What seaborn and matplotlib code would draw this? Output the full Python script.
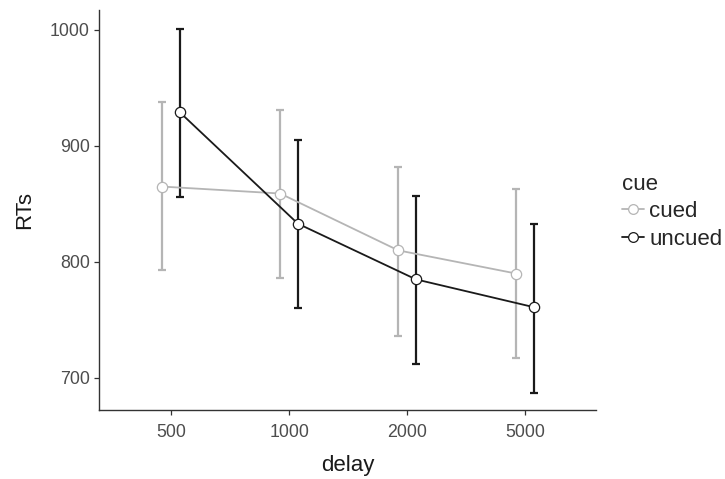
import matplotlib
matplotlib.use("Agg")
import matplotlib.pyplot as plt
import seaborn as sns
import pandas as pd
import numpy as np
from matplotlib.lines import Line2D

delays = ["500", "1000", "2000", "5000"]
cues = ["cued", "uncued"]
cued_mean = [865, 859, 810, 790]
cued_low = [793, 786, 736, 717]
cued_high = [938, 931, 882, 863]
uncued_mean = [929, 833, 785, 761]
uncued_low = [856, 760, 712, 687]
uncued_high = [1001, 905, 857, 833]

colors = {"cued": "#b5b5b5", "uncued": "#1a1a1a"}
offsets = {"cued": -0.075, "uncued": 0.075}

rows = []
for cue, m, lo, hi in [("cued", cued_mean, cued_low, cued_high),
                       ("uncued", uncued_mean, uncued_low, uncued_high)]:
    for i, d in enumerate(delays):
        rows.append(dict(delay=d, cue=cue, pos=i + offsets[cue], RTs=m[i], low=lo[i], high=hi[i]))
df = pd.DataFrame(rows)

sns.set_theme(style="ticks")
plt.rcParams["font.family"] = ["Liberation Sans", "DejaVu Sans"]

fig = plt.figure(figsize=(7.25, 4.79), dpi=100)
ax = fig.add_axes([99/725, 1-410/479, (596-99)/725, 400/479])

for cue in cues:
    sub = df[df.cue == cue]
    ax.errorbar(sub.pos, sub.RTs, yerr=[sub.RTs - sub.low, sub.high - sub.RTs],
                fmt="none", ecolor=colors[cue], elinewidth=1.6, capsize=3, capthick=1.6, zorder=2)

sns.lineplot(data=df, x="pos", y="RTs", hue="cue", palette=colors, hue_order=cues,
             sort=True, estimator=None, linewidth=1.3, ax=ax, legend=False, zorder=3)
for cue in cues:
    sub = df[df.cue == cue]
    ax.scatter(sub.pos, sub.RTs, s=55, facecolor="white", edgecolor=colors[cue], linewidth=0.9, zorder=4)

ax.set_xlim(-0.61, 3.6)
ax.set_ylim(672.4, 1017.2)
ax.set_xticks(range(len(delays)))
ax.set_xticklabels(delays)
ax.set_yticks([700, 800, 900, 1000])
ax.tick_params(axis="both", labelsize=12.8, labelcolor="#4d4d4d", color="#333333", length=3.6, width=0.9)
ax.tick_params(axis="x", pad=6.5)
ax.tick_params(axis="y", pad=3)
for s in ["top", "right"]:
    ax.spines[s].set_visible(False)
for s in ["left", "bottom"]:
    ax.spines[s].set_color("#333333")
    ax.spines[s].set_linewidth(1.0)
ax.set_xlabel("delay", fontsize=16, color="#1a1a1a", labelpad=10)
ax.set_ylabel("RTs", fontsize=16, color="#1a1a1a", labelpad=10.5)

handles = [Line2D([0], [0], color=colors[c], lw=1.3, marker="o", markersize=7,
                  markerfacecolor="white", markeredgecolor=colors[c], markeredgewidth=0.9)
           for c in cues]
leg = fig.legend(handles, cues, title="cue", loc="upper left", bbox_to_anchor=(606/725, 1-158/479),
                 frameon=False, fontsize=16, title_fontsize=16, handlelength=1.0,
                 handletextpad=0.25, labelspacing=0.3, borderpad=0.2)
leg._legend_box.align = "left"

fig.savefig("out.png", dpi=100)
